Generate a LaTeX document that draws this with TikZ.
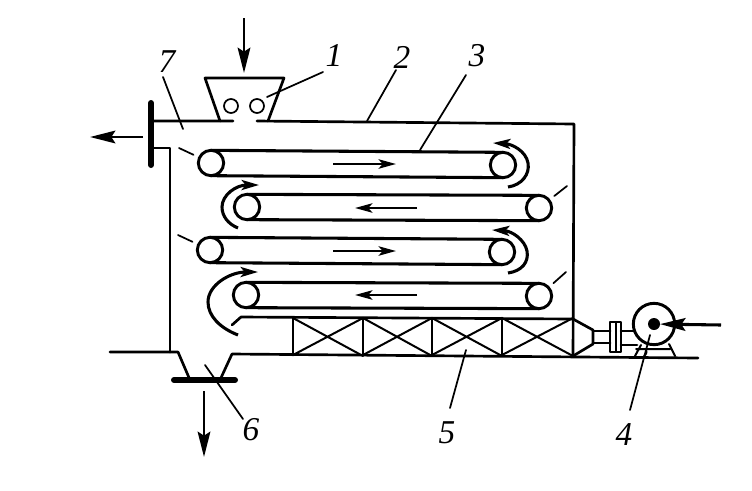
\documentclass[tikz,border=0pt]{standalone}
\usepackage{fontspec}
\setmainfont{Liberation Serif}
\usetikzlibrary{arrows.meta}
\tikzset{
  wall/.style={line width=2pt,line cap=round,line join=round},
  thin wall/.style={line width=1.5pt,line cap=round,line join=round},
  belt/.style={line width=2.3pt},
  roller/.style={circle,draw,line width=2.2pt,minimum size=19pt,inner sep=0pt,outer sep=0pt,fill=white},
  pebble/.style={circle,draw,line width=1.3pt,minimum size=10.5pt,inner sep=0pt,outer sep=0pt},
  leader/.style={line width=1.3pt,line cap=round},
  flange/.style={line width=4.5pt,line cap=round},
  flow/.style={line width=1.9pt,-{Stealth[length=19pt,width=9.5pt,inset=3pt]}},
  move/.style={line width=2pt,-{Stealth[length=13pt,width=7pt,inset=3pt]}},
  turn/.style={line width=2.3pt,-{Stealth[length=13pt,width=7.5pt,inset=3pt]}},
  num/.style={font=\fontsize{25}{25}\selectfont\itshape,inner sep=0pt},
  x=0.75pt,y=-0.75pt
}
\begin{document}
\begin{tikzpicture}
\useasboundingbox (0,0) rectangle (752,490);
% coordinates
\coordinate (hopTL) at (205,78); \coordinate (hopTR) at (284,78);
\coordinate (hopBL) at (220,121); \coordinate (hopBR) at (268,121);
\coordinate (topA) at (152,121); \coordinate (topB) at (233,121);
\coordinate (topC) at (257,121); \coordinate (topD) at (574,124);
\coordinate (wallB) at (573,356);
\coordinate (neckT) at (170,148); \coordinate (neckB) at (170,352);
\coordinate (floorA) at (110,352); \coordinate (floorB) at (178,352);
\coordinate (floorC) at (232,354); \coordinate (floorD) at (698,358);
\coordinate (outL) at (190,380); \coordinate (outR) at (220,380);
\coordinate (ductS) at (232,325); \coordinate (ductT) at (241,317);
\coordinate (ductE) at (573,319); \coordinate (coneT) at (593,330);
\coordinate (coneB) at (593,344);
% walls
\draw[wall] (topA) -- (topB) (topC) -- (topD) -- (wallB);
\draw[wall] (hopBL) -- (hopTL) -- (hopTR) -- (hopBR);
\draw[wall] (topA |- neckT) -- (neckT) -- (neckB);
\draw[flange] (151,103) -- (151,165);
\draw[wall] (floorA) -- (floorB) -- (outL) -- (outR) -- (floorC) -- (floorD);
\draw[flange] (174,380) -- (235,380);
% hopper feed rollers
\node[pebble] (feedA) at (231,106) {};
\node[pebble] (feedB) at (257,106) {};
% belts
\node[roller] (a1) at (211,163) {}; \node[roller] (b1) at (503,165) {};
\node[roller] (a2) at (247,207) {}; \node[roller] (b2) at (539,208) {};
\node[roller] (a3) at (210,250) {}; \node[roller] (b3) at (502,252) {};
\node[roller] (a4) at (246,295) {}; \node[roller] (b4) at (539,296) {};
\foreach \i in {1,2,3,4}{
  \draw[belt] (a\i.north) -- (b\i.north) (a\i.south) -- (b\i.south);
}
% direction arrows on the belts
\coordinate (m1a) at (333,164); \coordinate (m1b) at (396,164);
\coordinate (m2a) at (417,208); \coordinate (m2b) at (355,208);
\coordinate (m3a) at (333,251); \coordinate (m3b) at (396,251);
\coordinate (m4a) at (417,295); \coordinate (m4b) at (355,295);
\draw[move] (m1a) -- (m1b);
\draw[move] (m2a) -- (m2b);
\draw[move] (m3a) -- (m3b);
\draw[move] (m4a) -- (m4b);
% turn arrows
\draw[turn] (508,187) .. controls (522,185) and (530,174) .. (528,163) .. controls (526,151) and (512,144) .. (493,143);
\draw[turn] (238,228) .. controls (228,224) and (222,216) .. (222,207) .. controls (222,195) and (236,185) .. (259,185);
\draw[turn] (508,273) .. controls (522,271) and (529,262) .. (527,251) .. controls (525,240) and (512,231) .. (492,230);
\draw[turn] (238,335) .. controls (220,328) and (208,316) .. (208,302) .. controls (208,285) and (230,272) .. (258,272);
% air duct and packing
\draw[wall] (ductS) -- (ductT) -- (ductE) -- (coneT) -- (coneB) -- (wallB);
\foreach \xa/\xb in {293/363,363/432,432/502,502/573}{
  \coordinate (pTa) at (\xa,318); \coordinate (pTb) at (\xb,318);
  \coordinate (pBa) at (\xa,355); \coordinate (pBb) at (\xb,356);
  \draw[wall] (pTa) -- (pBa);
  \draw[thin wall] (pTa) -- (pBb) (pBa) -- (pTb);
}
% fan
\coordinate (pipeA) at (593,331); \coordinate (pipeB) at (610,331);
\coordinate (pipeC) at (593,343); \coordinate (pipeD) at (610,343);
\draw[wall] (pipeA) -- (pipeB) (pipeC) -- (pipeD);
\draw[thin wall] (610,322) rectangle (621,352);
\draw[line width=1.5pt] (615.5,322) -- (615.5,352);
\draw[wall] (621,331) -- (637,331) (621,345) -- (637,345);
\draw[thin wall] (635,356) -- (641,345) (669,344) -- (675,356) (636,349) -- (670,349);
\draw[thin wall] (646,349) .. controls (647,353) and (646,355) .. (644,356);
\node[circle,draw,line width=2.2pt,minimum size=31pt,inner sep=0pt,outer sep=0pt,fill=white] (fan) at (654,324) {};
\node[circle,fill=black,minimum size=9pt,inner sep=0pt,outer sep=0pt] (hub) at (654,324) {};
% flows
\coordinate (inTop) at (244,18); \coordinate (inTopE) at (244,73);
\coordinate (outAir) at (143,137); \coordinate (outAirE) at (90,137);
\coordinate (outBot) at (204,391); \coordinate (outBotE) at (204,457);
\coordinate (inAir) at (721,325);
\draw[flow] (inTop) -- (inTopE);
\draw[flow] (outAir) -- (outAirE);
\draw[flow] (outBot) -- (outBotE);
\draw[flow,line width=2.3pt] (inAir) -- (hub);
% labels and leaders
\node[num] (n1) at (334,55) {1};
\node[num] (n2) at (402,57) {2};
\node[num] (n3) at (477,56) {3};
\node[num] (n4) at (624,435) {4};
\node[num] (n5) at (447,433) {5};
\node[num] (n6) at (251,430) {6};
\node[num] (n7) at (167,62) {7};
\coordinate (t1) at (267,97); \coordinate (t2) at (367,121);
\coordinate (t3) at (420,150); \coordinate (t4) at (650,335);
\coordinate (t5) at (466,350); \coordinate (t6) at (205,365);
\coordinate (t7) at (183,129);
\draw[leader] (323,72) -- (t1);
\draw[leader] (396,70) -- (t2);
\draw[leader] (466,75) -- (t3);
\draw[leader] (630,410) -- (t4);
\draw[leader] (450,408) -- (t5);
\draw[leader] (243,419) -- (t6);
\draw[leader] (163,77) -- (t7);
% short ticks at rollers
\draw[leader,shorten >=5pt] (179,148) -- (a1);
\draw[leader,shorten >=5pt] (178,235) -- (a3);
\draw[leader,shorten >=5pt] (567,186) -- (b2);
\draw[leader,shorten >=5pt] (566,272) -- (b4);
\end{tikzpicture}
\end{document}
